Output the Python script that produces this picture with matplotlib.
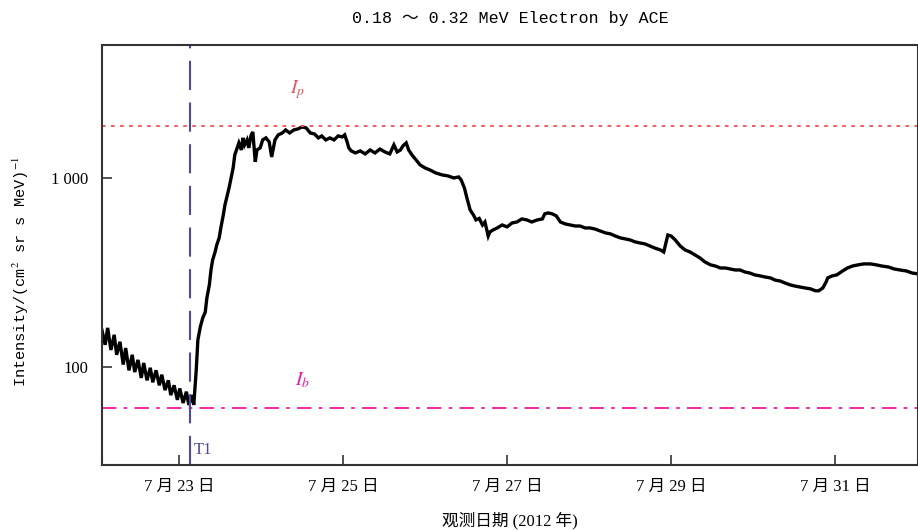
import matplotlib
matplotlib.use("Agg")
import matplotlib.pyplot as plt
from matplotlib.ticker import FixedLocator, NullLocator

plt.rcParams["mathtext.fontset"] = "stix"

# time in days of July 2012, intensity in (cm^2 sr s MeV)^-1
days = [
    22.06, 22.10, 22.13, 22.17, 22.21, 22.24, 22.28, 22.32, 22.35, 22.39,
    22.43, 22.46, 22.50, 22.54, 22.57, 22.61, 22.65, 22.68, 22.72, 22.76,
    22.79, 22.83, 22.87, 22.90, 22.94, 22.98, 23.01, 23.05, 23.09, 23.12,
    23.16, 23.18, 23.21, 23.23, 23.26, 23.29, 23.32, 23.34, 23.37, 23.39,
    23.41, 23.44, 23.46, 23.49, 23.51, 23.54, 23.56, 23.59, 23.61, 23.63,
    23.66, 23.68, 23.71, 23.73, 23.76, 23.78, 23.80, 23.83, 23.85, 23.88,
    23.90, 23.93, 23.95, 23.99, 24.02, 24.06, 24.10, 24.13, 24.17, 24.21,
    24.26, 24.30, 24.35, 24.40, 24.45, 24.50, 24.55, 24.60, 24.65, 24.70,
    24.74, 24.79, 24.84, 24.89, 24.94, 24.99, 25.02, 25.05, 25.07, 25.10,
    25.15, 25.21, 25.27, 25.33, 25.39, 25.45, 25.51, 25.57, 25.62, 25.66,
    25.70, 25.73, 25.77, 25.80, 25.84, 25.89, 25.94, 26.00, 26.06, 26.13,
    26.21, 26.28, 26.35, 26.41, 26.44, 26.48, 26.51, 26.55, 26.59, 26.62,
    26.66, 26.70, 26.73, 26.77, 26.79, 26.83, 26.88, 26.94, 27.00, 27.06,
    27.12, 27.18, 27.24, 27.30, 27.37, 27.43, 27.46, 27.50, 27.55, 27.60,
    27.65, 27.71, 27.77, 27.83, 27.89, 27.95, 28.01, 28.07, 28.13, 28.20,
    28.26, 28.32, 28.38, 28.44, 28.50, 28.56, 28.62, 28.68, 28.74, 28.80,
    28.87, 28.91, 28.94, 28.96, 29.00, 29.05, 29.11, 29.17, 29.23, 29.29,
    29.35, 29.41, 29.48, 29.54, 29.60, 29.66, 29.72, 29.78, 29.84, 29.90,
    29.96, 30.02, 30.09, 30.15, 30.21, 30.27, 30.33, 30.39, 30.45, 30.51,
    30.57, 30.63, 30.70, 30.76, 30.80, 30.85, 30.89, 30.91, 30.96, 31.02,
    31.09, 31.15, 31.21, 31.28, 31.35, 31.43, 31.50, 31.57, 31.65, 31.72,
    31.79, 31.87, 31.94, 32.01,
]
intensity = [
    157, 131, 161, 123, 148, 116, 136, 103, 126, 96,
    116, 94, 109, 87.5, 105, 85, 99, 83, 96, 80,
    91, 75.5, 85, 71, 80, 67, 77, 64.5, 74, 63,
    71, 63, 96, 139, 163, 182, 195, 232, 272, 326,
    368, 406, 442, 482, 544, 637, 719, 813, 885, 976,
    1129, 1324, 1442, 1532, 1406, 1629, 1496, 1589, 1442, 1690,
    1751, 1216, 1406, 1442, 1589, 1629, 1550, 1291, 1589, 1690,
    1730, 1795, 1730, 1795, 1817, 1862, 1840, 1730, 1710, 1629,
    1668, 1589, 1629, 1589, 1668, 1648, 1690, 1550, 1442, 1390,
    1356, 1390, 1340, 1406, 1356, 1422, 1373, 1340, 1496, 1373,
    1406, 1477, 1532, 1406, 1324, 1245, 1172, 1129, 1102, 1063,
    1037, 1025, 1000, 1012, 976, 885, 784, 677, 637, 600,
    611, 564, 585, 493, 518, 531, 544, 564, 551, 578,
    585, 607, 600, 585, 600, 607, 646, 653, 646, 630,
    585, 571, 564, 557, 557, 544, 544, 537, 525, 512,
    506, 493, 482, 476, 470, 459, 453, 448, 437, 426,
    416, 406, 459, 499, 493, 470, 437, 416, 406, 392,
    378, 360, 347, 342, 334, 334, 330, 326, 326, 318,
    314, 307, 303, 299, 296, 288, 285, 278, 272, 268,
    265, 262, 259, 253, 253, 262, 282, 296, 303, 307,
    322, 334, 342, 347, 351, 351, 347, 342, 338, 330,
    326, 322, 314, 311,
]

t1_day = 23.134
ip_level = 1885
ib_level = 60.7
tick_days = [23, 25, 27, 29, 31]
tick_labels = ["7 月 23 日", "7 月 25 日", "7 月 27 日", "7 月 29 日", "7 月 31 日"]

serif = ["Liberation Serif", "Noto Sans CJK SC", "DejaVu Sans"]
mono = ["Liberation Mono", "DejaVu Sans Mono", "Noto Sans CJK SC"]

fig = plt.figure(figsize=(9.18, 5.30), dpi=100)
ax = fig.add_axes([0.111, 0.1226, 0.889, 0.7925])

ax.plot(days, intensity, color="black", lw=2.4, solid_joinstyle="miter")
ax.axhline(ip_level, color="#f05050", lw=1.3, ls=(0, (2, 3)))
ax.axhline(ib_level, color="#f0199b", lw=1.3, ls=(0, (8, 4, 2, 4)))
ax.axvline(t1_day, color="#4a4aa0", lw=1.5, ls=(0, (14, 6)))

ax.text(24.44, 2925, "$I_p$", color="#e8505a", fontsize=14, ha="center", va="center")
ax.text(24.51, 85, "$I_b$", color="#f0199b", fontsize=14, ha="center", va="center")
ax.text(t1_day + 0.04, 33, "T1", color="#4a4aa0", fontsize=12,
        family=serif, ha="left", va="bottom")

ax.set_yscale("log")
ax.set_ylim(30.3, 5050)
ax.set_xlim(22.06, 32.01)
ax.yaxis.set_major_locator(FixedLocator([100, 1000]))
ax.yaxis.set_minor_locator(NullLocator())
ax.set_yticklabels(["100", "1 000"], family=serif, fontsize=12)
ax.set_xticks(tick_days)
ax.set_xticklabels(tick_labels, family=serif, fontsize=12)
ax.tick_params(direction="in", length=7, width=1.2, colors="#333333", pad=10)
ax.tick_params(labelcolor="black")
for s in ax.spines.values():
    s.set_linewidth(1.5)
    s.set_color("#333333")

ax.set_title("0.18 \uff5e 0.32 MeV Electron by ACE", family=mono, fontsize=12, pad=16)
ax.set_ylabel("Intensity/(cm$^2$ sr s MeV)$^{-1}$", family=mono, fontsize=11)
ax.yaxis.set_label_coords(-0.087, 0.46)
ax.set_xlabel("观测日期 (2012 年)", family=serif, fontsize=12, labelpad=12)

fig.savefig("out.png", dpi=100)
